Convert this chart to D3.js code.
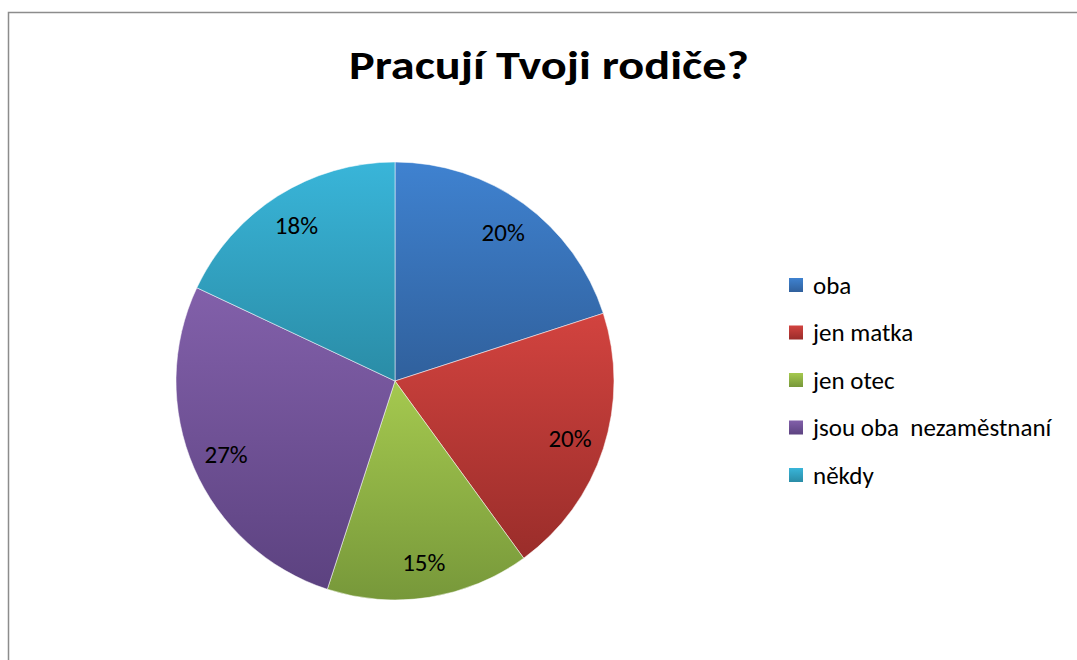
<!DOCTYPE html>
<html><head><meta charset="utf-8">
<script src="https://cdn.jsdelivr.net/npm/d3@7"></script>
<style>html,body{margin:0;padding:0;background:#fff;}</style>
</head><body>
<svg id="c" width="1077" height="660"></svg>
<script>
const title = "Pracují Tvoji rodiče?";
const categories = ["oba", "jen matka", "jen otec", "jsou oba  nezaměstnaní", "někdy"];
const values = [20, 20, 15, 27, 18];
const labels = ["20%", "20%", "15%", "27%", "18%"];
const topColors = ["#3F82D0", "#D2433F", "#A5C94F", "#8260AA", "#39B5D9"];
const bottomColors = ["#30609C", "#9A2D2A", "#77983A", "#5C4280", "#2A8CA6"];

const svg = d3.select("#c");
const font = "Carlito, Calibri, Lato, 'Open Sans', sans-serif";
svg.append("rect").attr("x", 8.5).attr("y", 12.5).attr("width", 1100).attr("height", 700)
  .attr("fill", "#fff").attr("stroke", "#8c8c8c").attr("stroke-width", 1.5);

svg.append("text").attr("x", 549).attr("y", 79).attr("text-anchor", "middle")
  .attr("font-family", font).attr("font-weight", "bold").attr("font-size", 41)
  .attr("textLength", 400).attr("lengthAdjust", "spacingAndGlyphs")
  .text(title);

const cx = 395, cy = 381, R = 219;
const defs = svg.append("defs");
categories.forEach((c, i) => {
  const g = defs.append("linearGradient").attr("id", "g" + i)
    .attr("x1", 0).attr("y1", 0).attr("x2", 0).attr("y2", 1);
  g.append("stop").attr("offset", 0).attr("stop-color", topColors[i]);
  g.append("stop").attr("offset", 1).attr("stop-color", bottomColors[i]);
});

const pie = d3.pie().sort(null).value(d => d)(values);
const arc = d3.arc().innerRadius(0).outerRadius(R);
const labelArc = d3.arc().innerRadius(184).outerRadius(184);
const gp = svg.append("g").attr("transform", `translate(${cx},${cy})`);
gp.selectAll("path").data(pie).join("path")
  .attr("d", arc).attr("fill", (d, i) => `url(#g${i})`)
  .attr("stroke", "rgba(255,255,255,0.5)").attr("stroke-width", 1);
gp.selectAll("text").data(pie).join("text")
  .attr("transform", d => `translate(${labelArc.centroid(d)})`)
  .attr("text-anchor", "middle").attr("dy", "0.35em")
  .attr("font-family", font).attr("font-size", 25).attr("fill", "#000")
  .text((d, i) => labels[i]);

const leg = svg.append("g");
const ly = d3.scalePoint().domain(categories).range([285, 475]);
categories.forEach((c, i) => {
  const y = ly(c);
  leg.append("rect").attr("x", 789).attr("y", y - 7).attr("width", 14).attr("height", 14)
    .attr("fill", `url(#g${i})`);
  leg.append("text").attr("x", 813).attr("y", y).attr("dy", "0.35em")
    .attr("font-family", font).attr("font-size", 25).attr("fill", "#000")
    .attr("xml:space", "preserve").style("white-space", "pre")
    .text(c);
});
</script>
</body></html>
